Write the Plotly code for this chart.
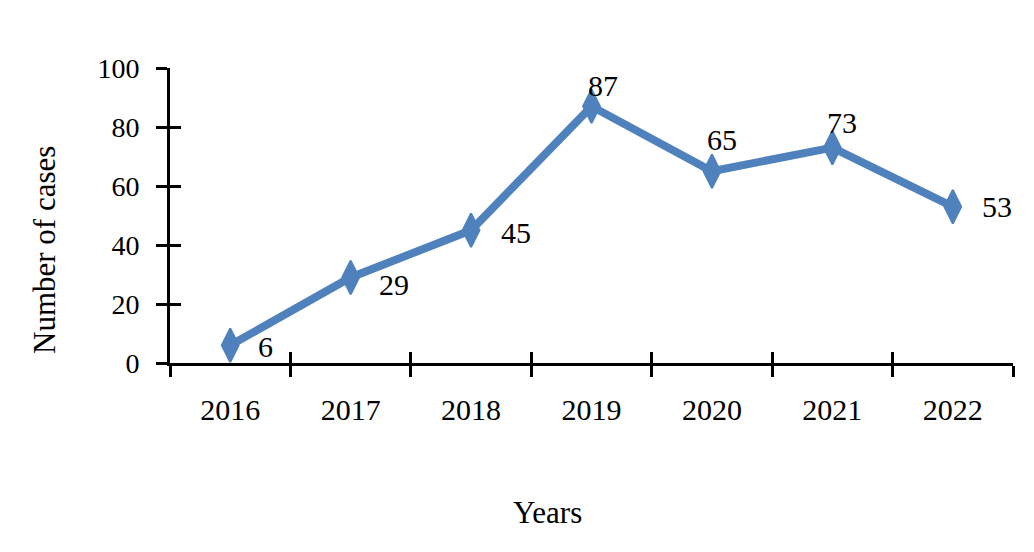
import plotly.graph_objects as go

years = ["2016", "2017", "2018", "2019", "2020", "2021", "2022"]
cases = [6, 29, 45, 87, 65, 73, 53]
label_dx = [35, 43, 45, 11, 10, 10, 44]
label_dy = [-1, -7, -2, 21, 32, 25, 0]
y_ticks = [0, 20, 40, 60, 80, 100]

FONT = "Liberation Serif"
BLUE = "#4F81BD"

xpos = list(range(len(years)))
bounds = [i - 0.5 for i in range(len(years) + 1)]
xr = [-0.5, len(years) - 0.5]

fig = go.Figure()
fig.add_trace(go.Scatter(
    x=xpos, y=cases, mode="lines+markers",
    line=dict(color=BLUE, width=8),
    marker=dict(symbol="diamond-tall", size=24, color=BLUE,
                line=dict(color=BLUE, width=2)),
    hoverinfo="skip", showlegend=False,
))
# invisible trace to drive the overlay axes (inside half of crossing ticks)
fig.add_trace(go.Scatter(
    x=xpos, y=cases, mode="markers", xaxis="x2", yaxis="y2",
    marker=dict(opacity=0), hoverinfo="skip", showlegend=False,
))

for i, (v, dx, dy) in enumerate(zip(cases, label_dx, label_dy)):
    fig.add_annotation(x=i, y=v, text=str(v), showarrow=False,
                       xshift=dx, yshift=dy,
                       font=dict(family=FONT, size=30, color="black"))

fig.add_annotation(xref="paper", yref="paper", x=0.448, y=-0.508,
                   text="Years", showarrow=False, xanchor="center", yanchor="middle",
                   font=dict(family=FONT, size=31, color="black"))
fig.add_annotation(xref="paper", yref="paper", x=-0.1495, y=0.383,
                   text="Number of cases", showarrow=False, textangle=-90,
                   xanchor="center", yanchor="middle",
                   font=dict(family=FONT, size=31, color="black"))

axis_common = dict(showgrid=False, zeroline=False)
fig.update_layout(
    width=1034, height=552,
    margin=dict(l=162, r=29, t=60, b=197),
    paper_bgcolor="white", plot_bgcolor="white",
    xaxis=dict(range=xr, tickmode="array", tickvals=xpos, ticktext=years,
               ticks="", showline=True, linewidth=3, linecolor="black",
               minor=dict(tickmode="array", tickvals=bounds, ticks="outside",
                          ticklen=11, tickwidth=3, tickcolor="black", showgrid=False),
               tickfont=dict(family=FONT, size=30, color="black"),
               ticklabelstandoff=18, **axis_common),
    yaxis=dict(range=[0, 100], tickvals=y_ticks, ticks="outside",
               ticklen=11, tickwidth=3, tickcolor="black",
               showline=True, linewidth=3, linecolor="black",
               tickfont=dict(family=FONT, size=28, color="black"),
               ticklabelstandoff=11, **axis_common),
    xaxis2=dict(range=xr, overlaying="x", anchor="y", side="bottom",
                tickmode="array", tickvals=bounds, ticks="inside", ticklen=11,
                tickwidth=3, tickcolor="black", showticklabels=False,
                showline=False, **axis_common),
    yaxis2=dict(range=[0, 100], overlaying="y", anchor="x", side="left",
                tickvals=y_ticks, ticks="inside", ticklen=11, tickwidth=3,
                tickcolor="black", showticklabels=False, showline=False,
                **axis_common),
)

fig.write_html("out.html")
